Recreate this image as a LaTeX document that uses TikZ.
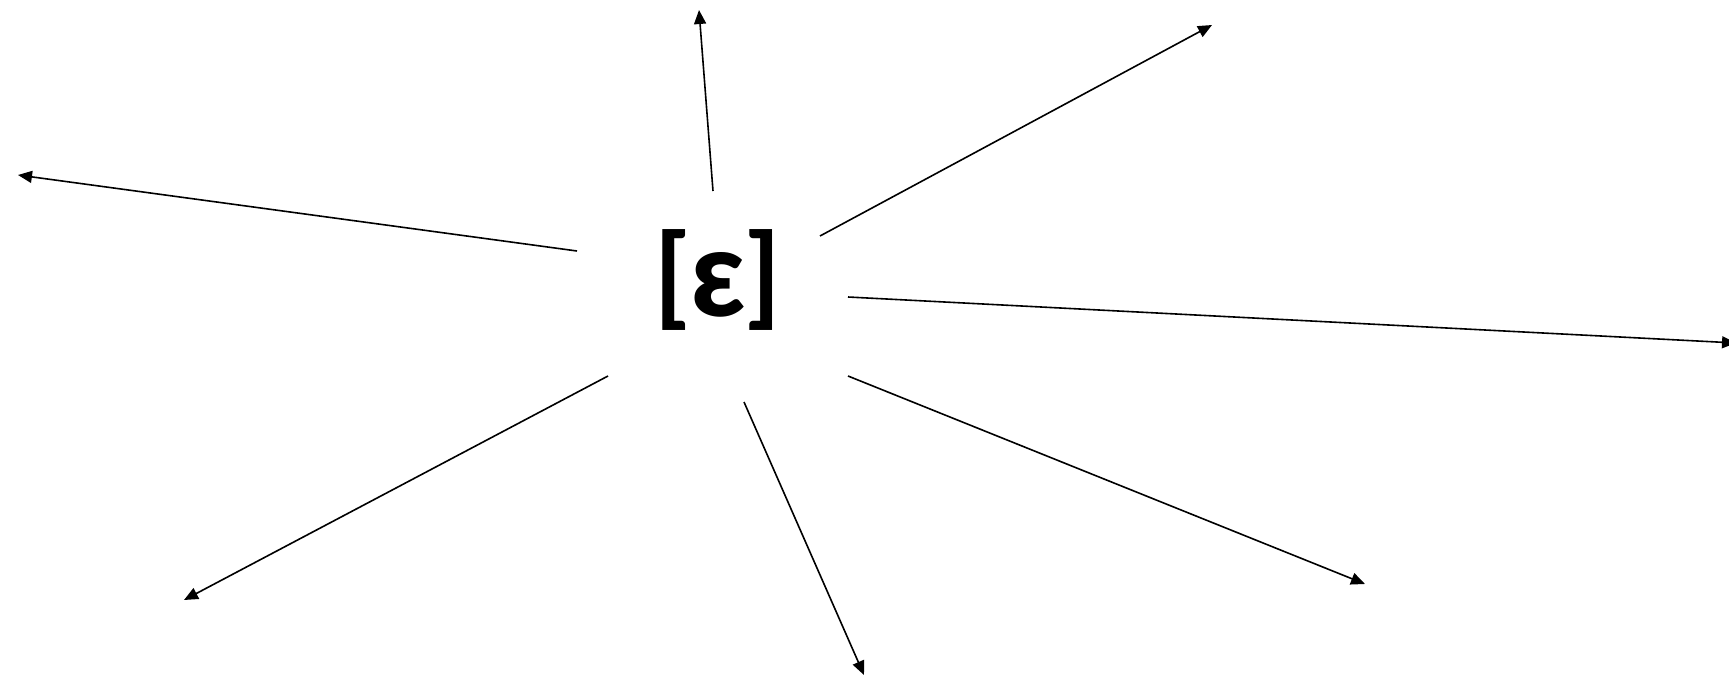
\documentclass[tikz,border=0pt]{standalone}
\usepackage{fontspec}
\setmainfont{Carlito}
\usetikzlibrary{arrows.meta}

\begin{document}
\begin{tikzpicture}[x=1pt, y=-1pt,
    ray/.style={-{Triangle[length=14pt, width=12pt]}, line width=1.6pt, color=black}]
        \useasboundingbox (0,0) rectangle (1729,677);
        \node[font=\fontsize{115}{120}\selectfont\bfseries] (vowel) at (718,280)
          {[\kern-2pt\raisebox{-3pt}{\scalebox{1.13}{ɛ}}\kern-2pt]};
        % start and end of each ray
        \coordinate (upS) at (713,191);    \coordinate (upE) at (699,10);
        \coordinate (urS) at (820,236);    \coordinate (urE) at (1212,25);
        \coordinate (lfS) at (577,251);    \coordinate (lfE) at (18,175);
        \coordinate (rtS) at (848,297);    \coordinate (rtE) at (1736,343);
        \coordinate (llS) at (608,376);    \coordinate (llE) at (184,600);
        \coordinate (dnS) at (744,402);    \coordinate (dnE) at (864,675);
        \coordinate (lrS) at (848,376);    \coordinate (lrE) at (1365,584);
        \draw[ray] (upS) -- (upE);
        \draw[ray] (urS) -- (urE);
        \draw[ray] (lfS) -- (lfE);
        \draw[ray] (rtS) -- (rtE);
        \draw[ray] (llS) -- (llE);
        \draw[ray] (dnS) -- (dnE);
        \draw[ray] (lrS) -- (lrE);
      \end{tikzpicture}
\end{document}
